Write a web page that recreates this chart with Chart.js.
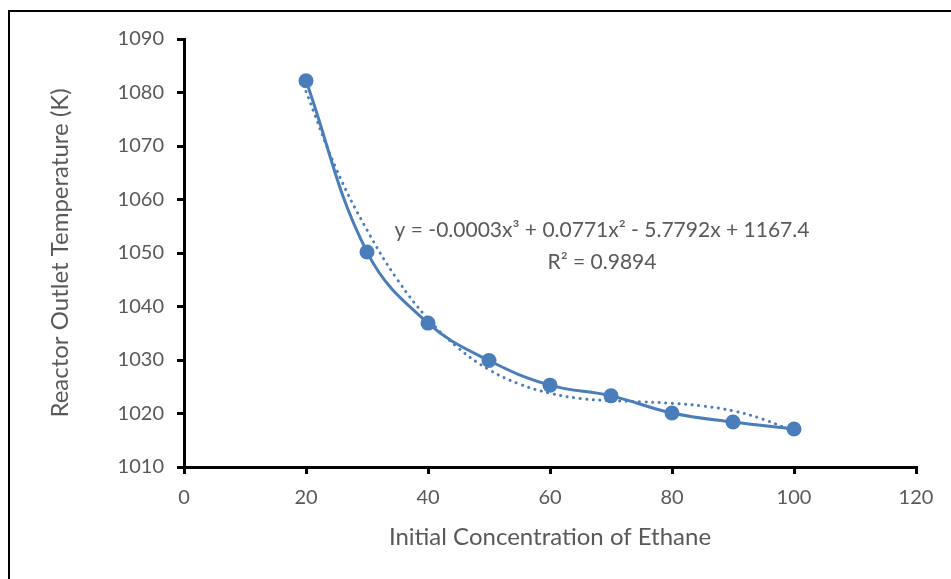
<!DOCTYPE html>
<html><head><meta charset="utf-8">
<script src="https://cdn.jsdelivr.net/npm/chart.js@4/dist/chart.umd.min.js"></script>
<style>
html,body{margin:0;padding:0;background:#fff;overflow:hidden}
#frame{position:absolute;left:8px;top:10px;width:980px;height:620px;border:2px solid #000;box-sizing:border-box}
#wrap{position:absolute;left:0;top:0;width:951px;height:579px}
</style></head>
<body>
<div id="frame"></div>
<div id="wrap"><canvas id="c" width="951" height="579"></canvas></div>
<script>
// Data
const concentration = [20, 30, 40, 50, 60, 70, 80, 90, 100];
const outletTemp = [1082.2, 1050.2, 1036.9, 1029.9, 1025.3, 1023.3, 1020.1, 1018.4, 1017.1];
// Dotted polynomial trendline
const trendX = [20, 25, 30, 35, 40, 45, 50, 55, 60, 65, 70, 75, 80, 85, 90, 95, 100];
const trendY = [1080.2, 1065.6, 1054.3, 1045.0, 1037.7, 1032.2, 1028.2, 1025.5, 1023.8, 1022.8, 1022.4, 1022.2, 1021.9, 1021.4, 1020.5, 1018.9, 1016.6];
const xTicks = [0, 20, 40, 60, 80, 100, 120];
const yTicks = [1010, 1020, 1030, 1040, 1050, 1060, 1070, 1080, 1090];
const equationText = 'y = -0.0003x³ + 0.0771x² - 5.7792x + 1167.4';
const r2Text = 'R² = 0.9894';
const xTitle = 'Initial Concentration of Ethane';
const yTitle = 'Reactor Outlet Temperature (K)';

const blue = '#4a7ebb';
const grey = '#595959';
const FONT = 'Lato, "Open Sans", sans-serif';

const labelPlugin = {
  id: 'trendLabel',
  afterDatasetsDraw(chart) {
    const ctx = chart.ctx, a = chart.chartArea;
    ctx.save();
    ctx.fillStyle = grey;
    ctx.font = '21px ' + FONT;
    ctx.textAlign = 'center';
    ctx.textBaseline = 'middle';
    const cx = a.left + (a.right - a.left) * 0.571;
    ctx.fillText(equationText, cx, a.top + 191);
    ctx.fillText(r2Text, cx, a.top + 223);
    ctx.restore();
  }
};

new Chart(document.getElementById('c'), {
  type: 'scatter',
  data: {
    datasets: [
      {
        label: 'trend',
        data: trendX.map((x, i) => ({x, y: trendY[i]})),
        showLine: true,
        borderColor: blue,
        borderWidth: 3,
        borderDash: [0.1, 6.5],
        borderCapStyle: 'round',
        pointRadius: 0,
        tension: 0.4,
        fill: false
      },
      {
        label: 'data',
        data: concentration.map((x, i) => ({x, y: outletTemp[i]})),
        showLine: true,
        borderColor: blue,
        backgroundColor: blue,
        borderWidth: 3,
        pointRadius: 7.5,
        pointBorderWidth: 0,
        pointBackgroundColor: blue,
        tension: 0.4,
        fill: false
      }
    ]
  },
  options: {
    responsive: false,
    animation: false,
    events: [],
    layout: {padding: {top: 39, right: 35, left: 0, bottom: 0}},
    plugins: {legend: {display: false}, tooltip: {enabled: false}},
    scales: {
      x: {
        type: 'linear', min: 0, max: 120,
        afterBuildTicks: s => { s.ticks = xTicks.map(v => ({value: v})); },
        afterFit: s => { s.height = 112; },
        border: {display: true, color: '#000', width: 3},
        grid: {drawOnChartArea: false, color: '#000', lineWidth: 3, tickLength: 7, tickColor: '#000'},
        ticks: {color: grey, font: {family: FONT, size: 20}, padding: 12, maxRotation: 0, callback: v => String(v)},
        title: {display: true, text: xTitle, color: grey, font: {family: FONT, size: 24}, padding: {top: 0, bottom: 27}}
      },
      y: {
        type: 'linear', min: 1010, max: 1090,
        afterBuildTicks: s => { s.ticks = yTicks.map(v => ({value: v})); },
        afterFit: s => { s.width = 184; },
        border: {display: true, color: '#000', width: 3},
        grid: {drawOnChartArea: false, color: '#000', lineWidth: 3, tickLength: 7, tickColor: '#000'},
        ticks: {color: grey, font: {family: FONT, size: 20}, padding: 13, callback: v => String(v)},
        title: {display: true, text: yTitle, color: grey, font: {family: FONT, size: 24}, padding: {top: 46, bottom: 0}}
      }
    }
  },
  plugins: [labelPlugin]
});
</script>
</body></html>
